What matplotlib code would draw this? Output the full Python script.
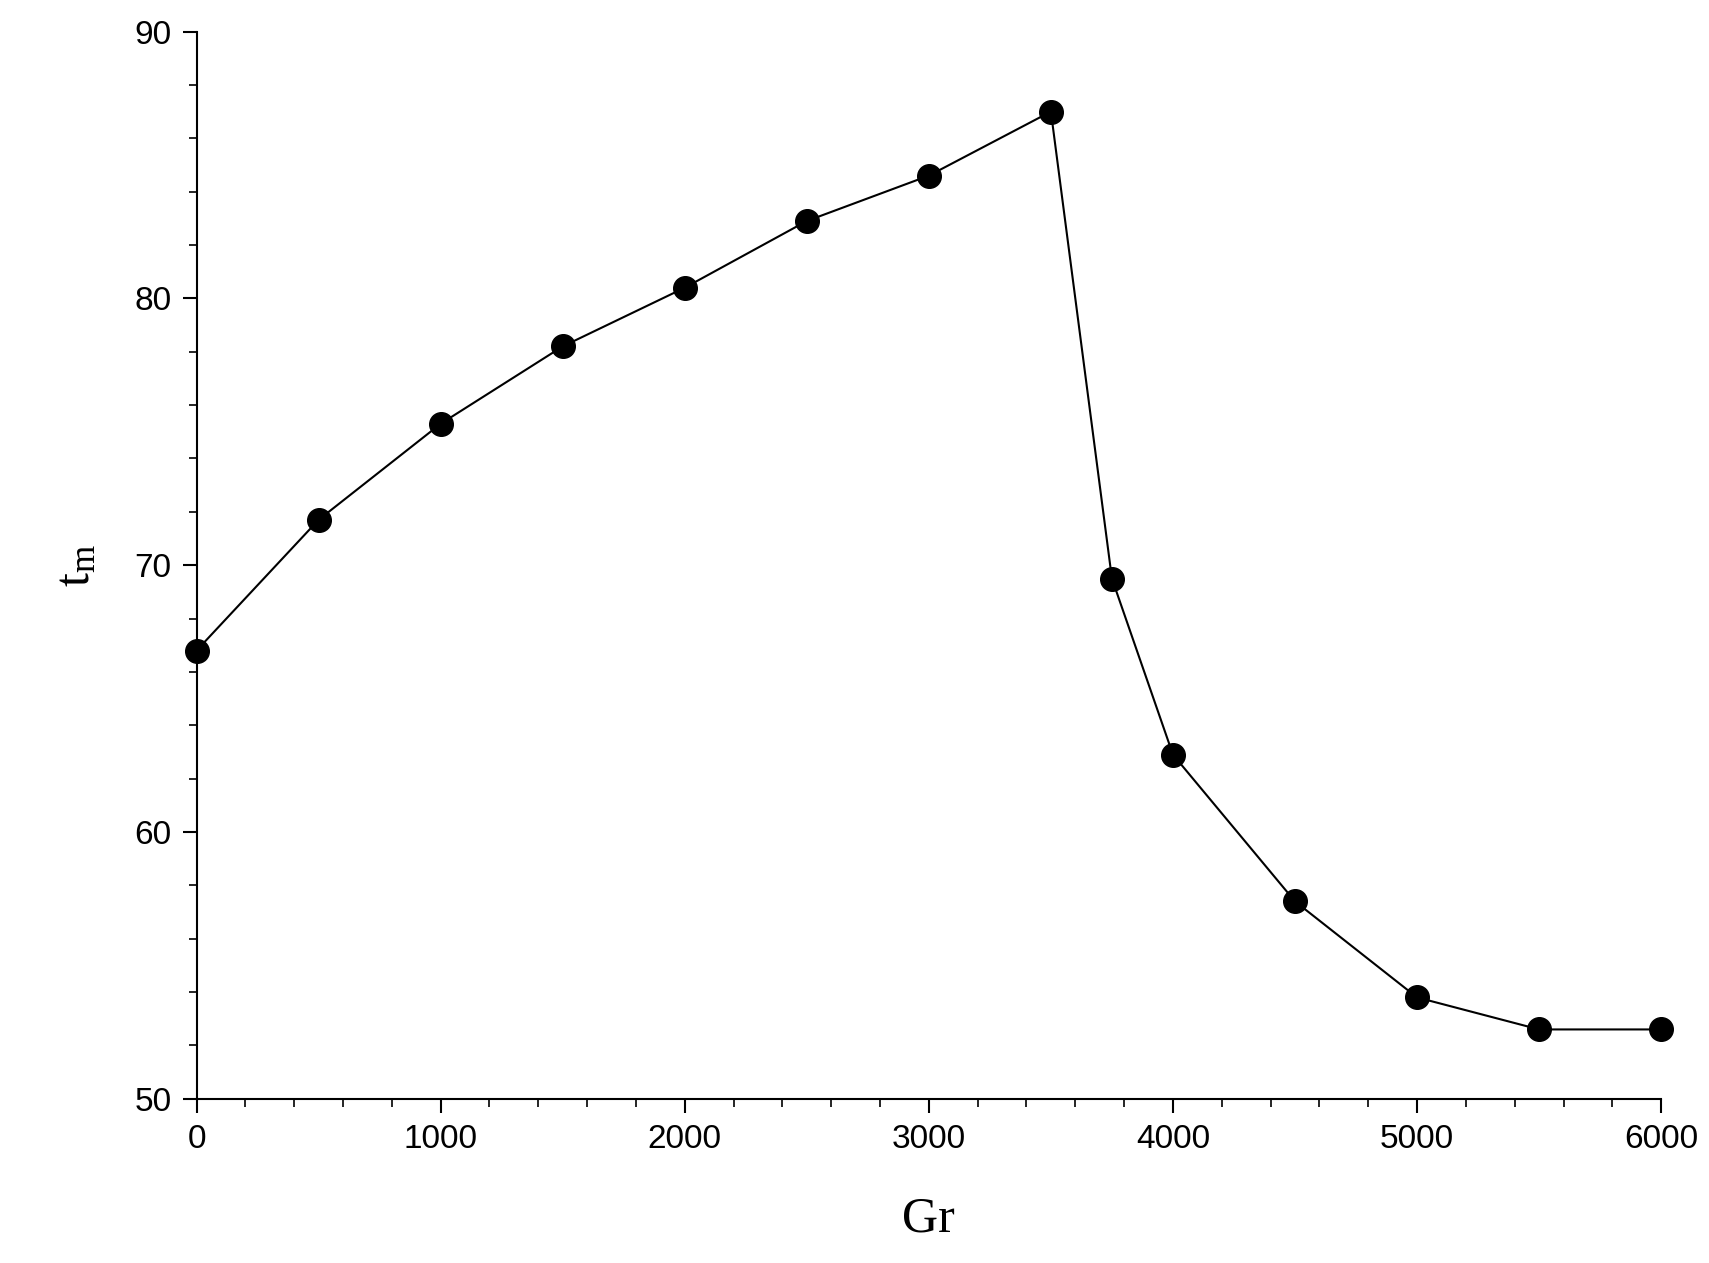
import matplotlib
matplotlib.use('Agg')
import matplotlib.pyplot as plt
from matplotlib.ticker import MultipleLocator

gr = [0, 500, 1000, 1500, 2000, 2500, 3000, 3500, 3750, 4000, 4500, 5000, 5500, 6000]
tm = [66.8, 71.7, 75.3, 78.2, 80.4, 82.9, 84.6, 87.0, 69.5, 62.9, 57.4, 53.8, 52.6, 52.6]

fig = plt.figure(figsize=(17.09, 12.63), dpi=100)
ax = fig.add_axes([0.115, 0.13, 0.857, 0.845])
ax.plot(gr, tm, '-o', color='black', lw=1.5, markersize=17, clip_on=False)
ax.set_xlim(0, 6000)
ax.set_ylim(50, 90)
ax.xaxis.set_major_locator(MultipleLocator(1000))
ax.xaxis.set_minor_locator(MultipleLocator(200))
ax.yaxis.set_major_locator(MultipleLocator(10))
ax.yaxis.set_minor_locator(MultipleLocator(2))
for s in ['top', 'right']:
    ax.spines[s].set_visible(False)
for s in ['left', 'bottom']:
    ax.spines[s].set_linewidth(1.5)
ax.tick_params(which='major', length=10, width=1.5, labelsize=24, pad=8)
ax.tick_params(which='minor', length=6, width=1.2)
for lab in ax.get_xticklabels() + ax.get_yticklabels():
    lab.set_family('Liberation Sans')
ax.set_xlabel('Gr', family='Liberation Serif', fontsize=36, labelpad=30)
ax.set_ylabel(r'$\mathregular{t_m}$', family='Liberation Serif', fontsize=36, labelpad=25)
fig.savefig('out.png')
